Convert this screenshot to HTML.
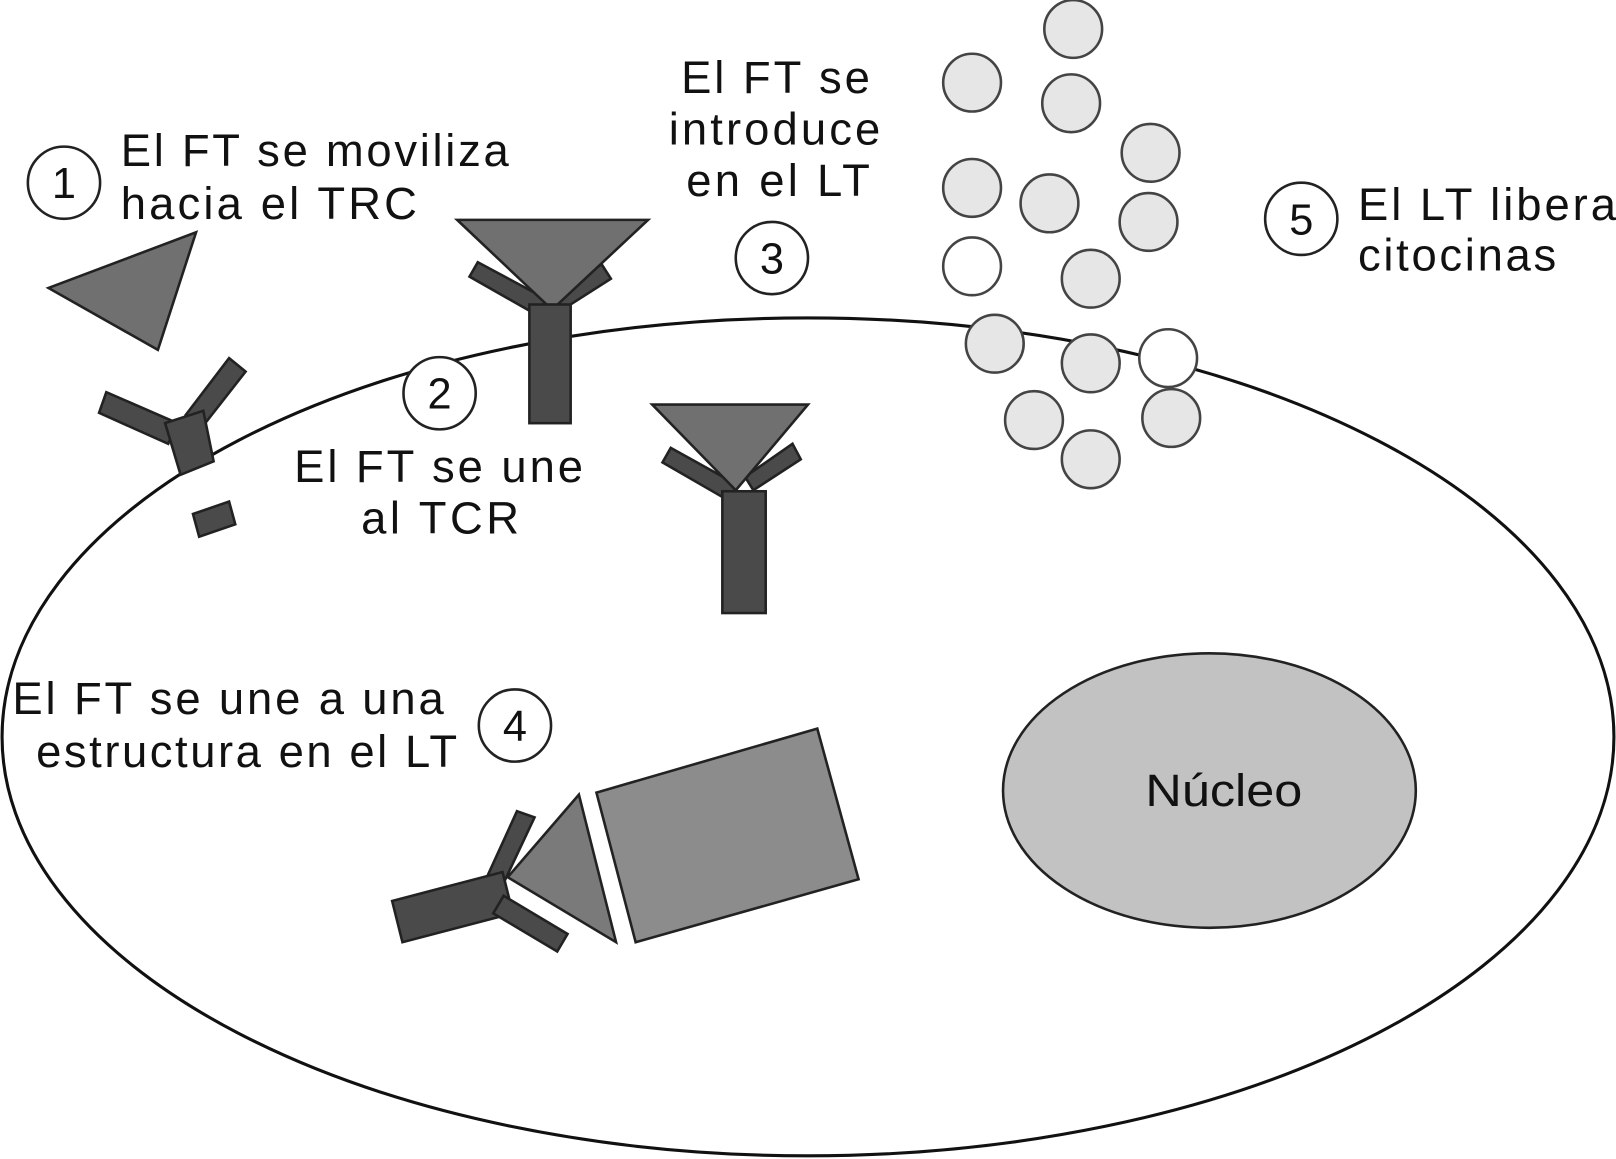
<!DOCTYPE html>
<html><head><meta charset="utf-8"><style>
html,body{margin:0;padding:0;background:#fff;}
svg{display:block}
text{font-family:"Liberation Sans",Arial,sans-serif;fill:#111;}
</style></head><body>
<svg width="1616" height="1159" viewBox="0 0 1566 1123" xmlns="http://www.w3.org/2000/svg">
<rect width="1566" height="1123" fill="#fff"/>
<ellipse cx="783" cy="714" rx="781" ry="406" fill="none" stroke="#111" stroke-width="3"/>
<ellipse cx="1172" cy="766" rx="200" ry="133" fill="#c2c2c2" stroke="#222" stroke-width="2.5"/>
<text x="1110" y="781" font-size="44" textLength="152" lengthAdjust="spacingAndGlyphs">Núcleo</text>

<g fill="#e6e6e6" stroke="#444" stroke-width="2.5">
<circle cx="1040" cy="28" r="28"/><circle cx="942" cy="80" r="28"/><circle cx="1038" cy="100" r="28"/>
<circle cx="1115" cy="148" r="28"/><circle cx="942" cy="182" r="28"/><circle cx="1017" cy="197" r="28"/>
<circle cx="1113" cy="215" r="28"/><circle cx="942" cy="258" r="28" fill="#fff"/><circle cx="1057" cy="270" r="28"/>
<circle cx="964" cy="333" r="28"/><circle cx="1057" cy="352" r="28"/><circle cx="1132" cy="347" r="28" fill="#fff"/>
<circle cx="1002" cy="407" r="28"/><circle cx="1135" cy="405" r="28"/><circle cx="1057" cy="445" r="28"/>
</g>

<g fill="#fff" stroke="#222" stroke-width="2.5">
<circle cx="62" cy="177" r="35"/><circle cx="426" cy="381" r="35"/><circle cx="748" cy="250" r="35"/>
<circle cx="499" cy="703" r="35"/><circle cx="1261" cy="212" r="35"/>
</g>
<g font-size="42" text-anchor="middle">
<text x="62" y="192">1</text><text x="426" y="396">2</text><text x="748" y="265">3</text>
<text x="499" y="718">4</text><text x="1261" y="227">5</text>
</g>

<g font-size="44" lengthAdjust="spacingAndGlyphs">
<text x="117" y="161" textLength="376">El FT se moviliza</text><text x="117" y="212" textLength="287">hacia el TRC</text>
<text x="285" y="467" textLength="280">El FT se une</text><text x="350" y="517" textLength="153">al TCR</text>
<text x="660" y="90" textLength="183">El FT se</text><text x="648" y="140" textLength="205">introduce</text><text x="665" y="190" textLength="178">en el LT</text>
<text x="1316" y="213" textLength="250">El LT libera</text><text x="1316" y="262" textLength="192">citocinas</text>
<text x="12" y="692" textLength="418">El FT se une a una</text><text x="35" y="743" textLength="408">estructura en el LT</text>
</g>

<g stroke="#222" stroke-width="2.5" stroke-linejoin="miter">
<polygon points="47,279 190,225 153,339" fill="#707070"/>
<polygon points="103,380 172,410 163,430 96,400" fill="#4a4a4a"/>
<polygon points="222,347 238,360 195,415 180,402" fill="#4a4a4a"/>
<polygon points="160,410 197,398 207,447 175,460" fill="#4a4a4a"/>
<polygon points="187,498 222,486 228,508 193,520" fill="#4a4a4a"/>
<polygon points="455,268 463,254 530,290 520,305" fill="#4a4a4a"/>
<polygon points="583,256 592,270 545,300 535,287" fill="#4a4a4a"/>
<polygon points="443,213 628,213 535,300" fill="#707070"/>
<rect x="513" y="295" width="40" height="115" fill="#4a4a4a"/>
<polygon points="642,448 650,434 715,470 706,485" fill="#4a4a4a"/>
<polygon points="768,430 776,445 730,475 722,462" fill="#4a4a4a"/>
<polygon points="632,392 783,392 713,475" fill="#707070"/>
<rect x="700" y="476" width="42" height="118" fill="#4a4a4a"/>
<polygon points="578,768 792,706 832,852 616,913" fill="#8c8c8c"/>
<polygon points="501,786 518,792 486,860 470,854" fill="#4a4a4a"/>
<polygon points="380,873 487,845 497,885 390,913" fill="#4a4a4a"/>
<polygon points="488,868 550,905 540,922 478,885" fill="#4a4a4a"/>
<polygon points="561,770 597,913 492,850" fill="#7a7a7a"/>
</g>
</svg>
</body></html>
